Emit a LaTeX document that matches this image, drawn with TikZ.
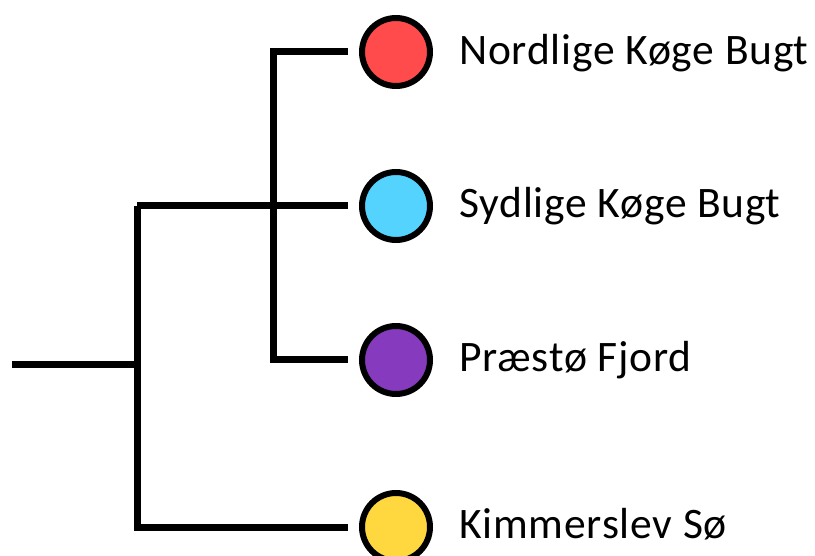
\documentclass[tikz,border=0pt]{standalone}
\usepackage{fontspec}
\setmainfont{Carlito}
\definecolor{leafred}{RGB}{255,75,75}
\definecolor{leafblue}{RGB}{85,211,255}
\definecolor{leafpurple}{RGB}{134,58,190}
\definecolor{leafyellow}{RGB}{255,216,64}
\tikzset{
  branch/.style={line width=7pt, line join=miter, line cap=butt},
  leaf/.style={circle, draw=black, line width=6pt, minimum size=68pt, inner sep=0pt},
  leaflabel/.style={anchor=base west, inner sep=0pt, font=\fontsize{43.5}{52}\selectfont\addfontfeature{LetterSpace=1.8}},
  gap/.style={shorten >=11pt}
}
\begin{document}
\begin{tikzpicture}[x=1pt,y=-1pt]
\useasboundingbox (0,0) rectangle (815,556);
% leaves
\node[leaf, fill=leafred]    (c1) at (396,52)  {};
\node[leaf, fill=leafblue]   (c2) at (396,206) {};
\node[leaf, fill=leafpurple] (c3) at (396,360) {};
\node[leaf, fill=leafyellow] (c4) at (396,527) {};
% labels
\node[leaflabel] (t1) at (459,65)  {Nordlige Køge Bugt};
\node[leaflabel] (t2) at (459,218) {Sydlige Køge Bugt};
\node[leaflabel] (t3) at (459,372) {Præstø Fjord};
\node[leaflabel] (t4) at (459,538) {Kimmerslev Sø};
% junctions
\coordinate (root) at (12,365);
\coordinate (n0) at (137,365);
\coordinate (n1) at (137,206);
\coordinate (m)  at (273,360);
% tree
\draw[branch] (root) -- (n0);
\draw[branch, gap] (n1) |- (c4);
\draw[branch, gap] (n1) -- (c2);
\draw[branch, shorten <=11pt, gap] (c1) -| (m) -- (c3);
\end{tikzpicture}
\end{document}
